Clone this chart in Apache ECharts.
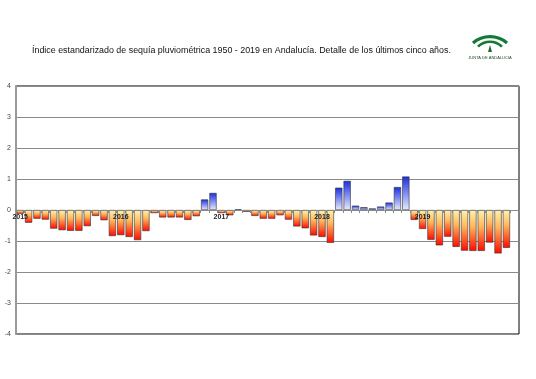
<!DOCTYPE html>
<html>
<head>
<meta charset="utf-8">
<script src="https://cdn.jsdelivr.net/npm/echarts@6/dist/echarts.min.js"></script>
<style>
html,body{margin:0;padding:0;background:#fff;}
#c{width:536px;height:379px;}
</style>
</head>
<body>
<div id="c"></div>
<script>
// ---- data ----
const years = ['2015', '2016', '2017', '2018', '2019'];
const months = ['01','02','03','04','05','06','07','08','09','10','11','12'];
const v2015 = [-0.12, -0.41, -0.28, -0.31, -0.60, -0.65, -0.67, -0.67, -0.52, -0.19, -0.33, -0.84];
const v2016 = [-0.81, -0.87, -0.97, -0.68, -0.10, -0.24, -0.24, -0.24, -0.32, -0.20, 0.34, 0.55];
const v2017 = [-0.10, -0.17, 0.02, -0.06, -0.19, -0.28, -0.28, -0.17, -0.31, -0.53, -0.59, -0.82];
const v2018 = [-0.87, -1.06, 0.72, 0.94, 0.14, 0.09, 0.05, 0.11, 0.24, 0.74, 1.08, -0.32];
const v2019 = [-0.61, -0.96, -1.14, -0.86, -1.19, -1.31, -1.32, -1.32, -1.05, -1.40, -1.22, null];
const yTicks = [-4, -3, -2, -1, 0, 1, 2, 3, 4];
const titleText = 'Índice estandarizado de sequía pluviométrica 1950 - 2019 en Andalucía. Detalle de los últimos cinco años.';

const categories = [];
years.forEach(y => months.forEach(m => categories.push(y + '-' + m)));
const values = [].concat(v2015, v2016, v2017, v2018, v2019);

const negGrad = new echarts.graphic.LinearGradient(0, 0, 0, 1, [
  {offset: 0, color: '#fff3ac'},
  {offset: 0.4, color: '#ffb85c'},
  {offset: 1, color: '#ff0a00'}
]);
const posGrad = new echarts.graphic.LinearGradient(0, 0, 0, 1, [
  {offset: 0, color: '#1a2ee0'},
  {offset: 1, color: '#e6ecff'}
]);

const barData = values.map(v => v == null ? null : {
  value: v,
  itemStyle: {color: v < 0 ? negGrad : posGrad}
});

const gridTop = 86, gridBottom = 45, H = 379;
const plotH = H - gridTop - gridBottom;
const zeroOffset = -plotH * (0 - yTicks[0]) / (yTicks[yTicks.length - 1] - yTicks[0]);

const chart = echarts.init(document.getElementById('c'), null, {renderer: 'canvas'});
chart.setOption({
  animation: false,
  backgroundColor: '#fff',
  title: {
    text: titleText,
    left: 27, top: 41,
    textStyle: {fontSize: 8.9, fontWeight: 'normal', color: '#111', fontFamily: 'Liberation Sans, Arial, sans-serif'}
  },
  grid: {left: 16, right: 17, top: gridTop, bottom: gridBottom, show: true, borderColor: '#000', borderWidth: 1},
  xAxis: {
    type: 'category',
    data: categories,
    boundaryGap: true,
    position: 'bottom',
    offset: zeroOffset,
    z: 10,
    axisLine: {onZero: false, lineStyle: {color: '#888', width: 1}},
    axisTick: {show: true, interval: 0, length: 3, lineStyle: {color: '#888'}},
    axisLabel: {
      interval: (i, v) => v.slice(5) === '01',
      formatter: v => v.slice(0, 4),
      fontSize: 7, fontWeight: 'bold', color: '#222', margin: 4,
      fontFamily: 'Liberation Sans, Arial, sans-serif'
    },
    splitLine: {show: false}
  },
  yAxis: {
    type: 'value',
    min: yTicks[0], max: yTicks[yTicks.length - 1], interval: 1,
    axisLine: {show: true, lineStyle: {color: '#999', width: 2}},
    axisTick: {show: false},
    axisLabel: {fontSize: 7, color: '#444', margin: 5, fontFamily: 'Liberation Sans, Arial, sans-serif'},
    splitLine: {show: true, lineStyle: {color: '#8a8a8a', width: 1}}
  },
  series: [{
    type: 'bar',
    data: barData,
    z: 2,
    barCategoryGap: '14%',
    itemStyle: {borderColor: '#333', borderWidth: 0.6}
  }],
  graphic: [
    {type: 'arc', shape: {cx: 490, cy: 62.8, r: 26.1, startAngle: -Math.PI/2 - 0.71, endAngle: -Math.PI/2 + 0.71},
     style: {stroke: '#137a35', lineWidth: 3.2, fill: null}},
    {type: 'arc', shape: {cx: 490, cy: 58.6, r: 16.9, startAngle: -Math.PI/2 - 0.79, endAngle: -Math.PI/2 + 0.79},
     style: {stroke: '#137a35', lineWidth: 2.6, fill: null}},
    {type: 'polygon', shape: {points: [[490, 45], [488, 52], [492, 52]]}, style: {fill: '#1b6a30'}},
    {type: 'text', x: 490, y: 57.5, style: {text: 'JUNTA DE ANDALUCIA', fontSize: 4, fill: '#1f4a24', align: 'center', verticalAlign: 'middle', fontFamily: 'Liberation Sans, Arial, sans-serif'}}
  ]
});
</script>
</body>
</html>
